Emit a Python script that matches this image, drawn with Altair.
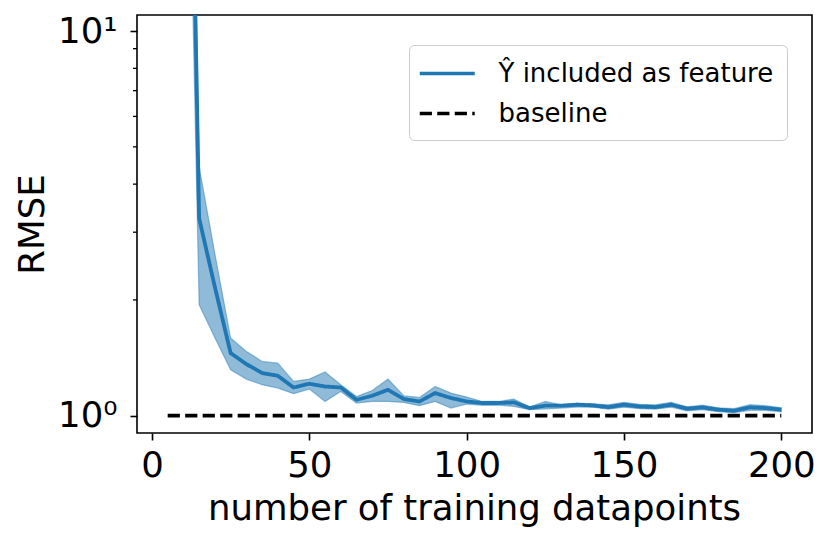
import altair as alt
import pandas as pd

# ---- data ----
x_vals = list(range(5, 205, 5))
mean_rmse = [3000, 520, 3.26, 2.16, 1.455, 1.362, 1.291, 1.270, 1.184, 1.211,
             1.191, 1.184, 1.100, 1.127, 1.168, 1.105, 1.089, 1.145, 1.112, 1.089,
             1.079, 1.079, 1.083, 1.047, 1.062, 1.062, 1.068, 1.064, 1.053, 1.068,
             1.057, 1.053, 1.068, 1.043, 1.051, 1.037, 1.030, 1.051, 1.047, 1.037]
upper_rmse = [5000, 880, 4.44, 2.635, 1.592, 1.469, 1.384, 1.370, 1.228, 1.245,
              1.299, 1.204, 1.122, 1.163, 1.245, 1.127, 1.116, 1.191, 1.145, 1.118,
              1.089, 1.089, 1.105, 1.053, 1.089, 1.068, 1.079, 1.074, 1.068, 1.084,
              1.071, 1.068, 1.084, 1.055, 1.065, 1.049, 1.043, 1.068, 1.062, 1.049]
lower_rmse = [1000, 160, 1.942, 1.595, 1.317, 1.245, 1.204, 1.180, 1.141, 1.173,
              1.089, 1.156, 1.079, 1.089, 1.089, 1.083, 1.062, 1.089, 1.047, 1.072,
              1.064, 1.066, 1.057, 1.037, 1.041, 1.047, 1.053, 1.052, 1.040, 1.052,
              1.043, 1.040, 1.052, 1.030, 1.037, 1.024, 1.018, 1.033, 1.033, 1.024]
baseline_x = [5, 200]
baseline_y = [1.0, 1.0]
series_labels = ["Ŷ included as feature", "baseline"]
x_ticks = [0, 50, 100, 150, 200]
y_major = [1, 10]
y_minor = [2, 3, 4, 5, 6, 7, 8, 9]

FONT = "DejaVu Sans"
BLUE = "#1f77b4"

band_df = pd.DataFrame({"n": x_vals, "upper": upper_rmse, "lower": lower_rmse})
line_df = pd.concat([
    pd.DataFrame({"n": x_vals, "rmse": mean_rmse, "series": series_labels[0]}),
    pd.DataFrame({"n": baseline_x, "rmse": baseline_y, "series": series_labels[1]}),
], ignore_index=True)
minor_df = pd.DataFrame({"v": y_minor})

xscale = alt.Scale(domain=[-4.75, 209.75], nice=False, zero=False)
yscale = alt.Scale(type="log", domain=[0.9017, 11.01], nice=False)

xaxis = alt.Axis(values=x_ticks, title="number of training datapoints", grid=False,
                 domain=False, tickSize=7, tickWidth=1.6, tickColor="black",
                 labelFontSize=35.5, labelFont=FONT, labelColor="black",
                 labelBaseline="alphabetic", labelPadding=36, labelFlush=False,
                 titleFontSize=35.5, titleFont=FONT, titleFontWeight="normal",
                 titleColor="black", titleBaseline="alphabetic", titleY=86,
                 titleX=337, titleAlign="center")
yaxis = alt.Axis(values=y_major, title="RMSE", grid=False, domain=False,
                 tickSize=7, tickWidth=1.6, tickColor="black",
                 labelExpr="datum.value >= 10 ? '10¹' : '10⁰'",
                 labelFontSize=35.5, labelFont=FONT, labelColor="black",
                 labelBaseline="middle", labelAlign="right", labelPadding=13,
                 labelFlush=False,
                 titleFontSize=35.5, titleFont=FONT, titleFontWeight="normal",
                 titleColor="black", titleBaseline="alphabetic", titleAngle=270,
                 titleX=-94, titleY=209, titleAlign="center")

band = alt.Chart(band_df).mark_area(
    clip=True, color=BLUE, fillOpacity=0.5, stroke=BLUE, strokeOpacity=0.45,
    strokeWidth=1.2
).encode(
    x=alt.X("n:Q", scale=xscale, axis=xaxis),
    y=alt.Y("upper:Q", scale=yscale, axis=yaxis),
    y2="lower:Q",
)

legend = alt.Legend(title=None, orient="none", legendX=272, legendY=30,
                    symbolType="M-1.291,0H2.709", symbolSize=756,
                    symbolStrokeWidth=3.5,
                    labelFontSize=26, labelFont=FONT, labelColor="black",
                    labelOffset=45.5, labelLimit=500, padding=13, rowPadding=11,
                    strokeColor="#cccccc", fillColor="white", cornerRadius=5)

lines = alt.Chart(line_df).mark_line(clip=True, strokeWidth=3.8).encode(
    x=alt.X("n:Q", scale=xscale, axis=xaxis),
    y=alt.Y("rmse:Q", scale=yscale, axis=yaxis),
    color=alt.Color("series:N", scale=alt.Scale(domain=series_labels,
                                                 range=[BLUE, "black"]),
                    legend=legend),
    strokeDash=alt.StrokeDash("series:N", scale=alt.Scale(domain=series_labels,
                                                          range=[[1, 0], [12.2, 5.3]]),
                              legend=legend),
    detail="series:N",
)

minor = alt.Chart(minor_df).mark_rule(color="black", strokeWidth=1.3).encode(
    y=alt.Y("v:Q", scale=yscale, axis=yaxis),
    x=alt.value(-4),
    x2=alt.value(0),
)

chart = alt.layer(band, lines, minor).properties(
    width=675, height=418, background="white",
    autosize=alt.AutoSizeParams(type="none"),
    padding={"left": 129, "top": 7, "right": 10, "bottom": 101},
).configure_view(stroke="black", strokeWidth=1.6)

chart.save("out.html", embed_options={"renderer": "svg", "actions": False})
